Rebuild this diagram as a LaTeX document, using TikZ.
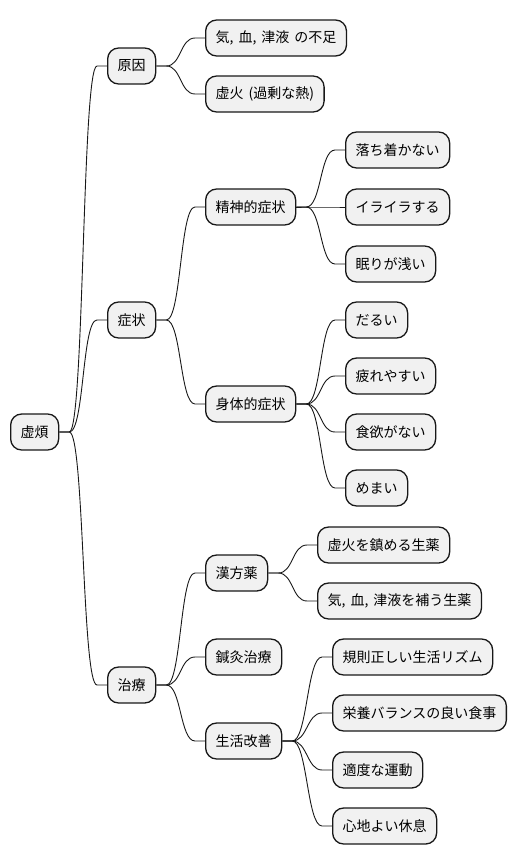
\documentclass[tikz,border=0pt]{standalone}
\usepackage{fontspec}
\setmainfont{Noto Sans CJK JP}[WordSpace=1.6]
\usepackage{tikz}
\definecolor{boxfill}{HTML}{F1F1F1}
\definecolor{boxline}{HTML}{181818}
\tikzset{
  box/.style={draw=boxline, fill=boxfill, line width=1.3pt, rounded corners=11pt,
    anchor=west, minimum height=36pt, inner xsep=10pt, inner ysep=0pt,
    font=\fontsize{14}{16}\selectfont},
  link/.style={draw=boxline, line width=0.9pt}
}
% branch from parent to child
\newcommand{\branch}[2]{\draw[link] (#1.east) -- ++(10,0) .. controls +(15,0) and +(-15,0) .. ([xshift=-10pt]#2.west) -- (#2.west);}

\begin{document}
\begin{tikzpicture}[x=1pt,y=-1pt]
          \useasboundingbox (0,0) rectangle (516,865);
          % root
          \node[box] (root) at (10,432) {虚煩};
          % causes
          \node[box] (cause) at (107,66) {原因};
          \node[box] (lack) at (205,38) {気, 血, 津液 の不足};
          \node[box] (heat) at (205,94) {虚火 (過剰な熱)};
          % symptoms
          \node[box] (symp) at (107,320) {症状};
          \node[box] (mind) at (205,207) {精神的症状};
          \node[box] (m1) at (345,150) {落ち着かない};
          \node[box] (m2) at (345,207) {イライラする};
          \node[box] (m3) at (345,264) {眠りが浅い};
          \node[box] (body) at (205,404) {身体的症状};
          \node[box] (b1) at (345,320) {だるい};
          \node[box] (b2) at (345,376) {疲れやすい};
          \node[box] (b3) at (345,432) {食欲がない};
          \node[box] (b4) at (345,488) {めまい};
          % treatment
          \node[box] (treat) at (107,685) {治療};
          \node[box] (herb) at (205,573) {漢方薬};
          \node[box] (h1) at (317,545) {虚火を鎮める生薬};
          \node[box] (h2) at (317,601) {気, 血, 津液を補う生薬};
          \node[box] (acu) at (205,657) {鍼灸治療};
          \node[box] (life) at (205,741) {生活改善};
          \node[box] (l1) at (332,657) {規則正しい生活リズム};
          \node[box] (l2) at (332,713) {栄養バランスの良い食事};
          \node[box] (l3) at (332,770) {適度な運動};
          \node[box] (l4) at (332,826) {心地よい休息};
          % links
          \branch{root}{cause}
          \branch{root}{symp}
          \branch{root}{treat}
          \branch{cause}{lack}
          \branch{cause}{heat}
          \branch{symp}{mind}
          \branch{symp}{body}
          \branch{mind}{m1}
          \branch{mind}{m2}
          \branch{mind}{m3}
          \branch{body}{b1}
          \branch{body}{b2}
          \branch{body}{b3}
          \branch{body}{b4}
          \branch{treat}{herb}
          \branch{treat}{acu}
          \branch{treat}{life}
          \branch{herb}{h1}
          \branch{herb}{h2}
          \branch{life}{l1}
          \branch{life}{l2}
          \branch{life}{l3}
          \branch{life}{l4}
\end{tikzpicture}
\end{document}
